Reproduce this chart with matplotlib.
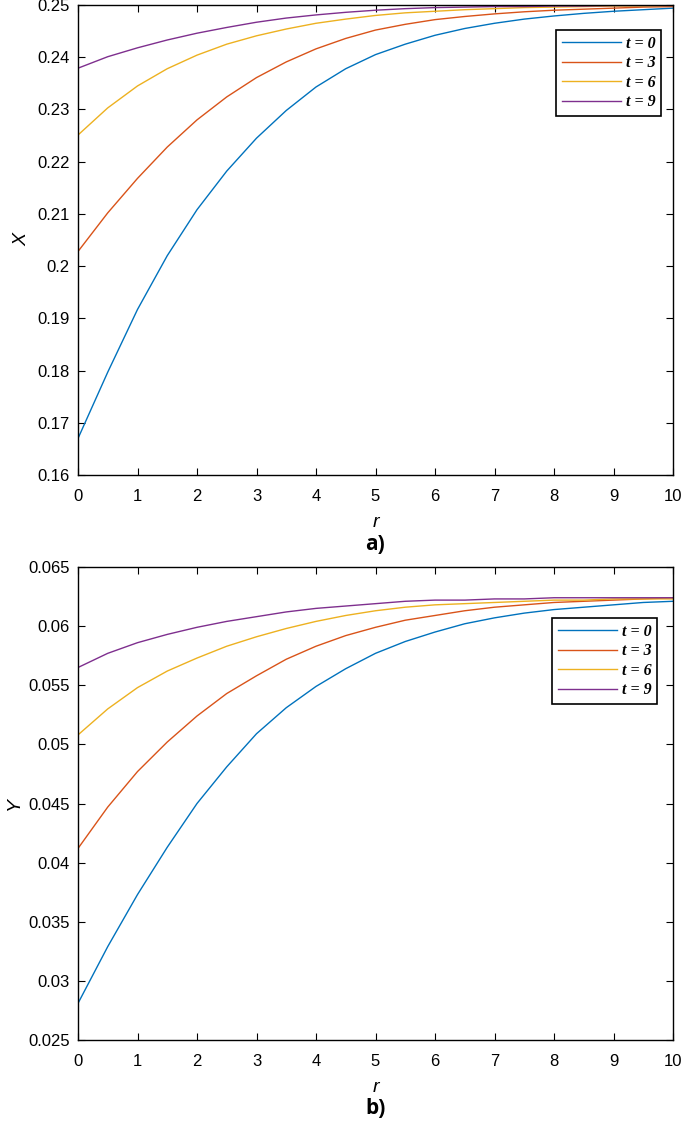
import matplotlib.pyplot as plt

# r values (every 0.5)
r = [0, 0.5, 1, 1.5, 2, 2.5, 3, 3.5, 4, 4.5, 5, 5.5, 6, 6.5, 7, 7.5, 8, 8.5, 9, 9.5, 10]

# a) X(r)
x_t0 = [0.1670, 0.1797, 0.1917, 0.2020, 0.2108, 0.2182, 0.2245, 0.2298, 0.2343, 0.2378, 0.2405,
        0.2425, 0.2442, 0.2455, 0.2465, 0.2473, 0.2479, 0.2484, 0.2488, 0.2491, 0.2494]
x_t3 = [0.2028, 0.2102, 0.2168, 0.2228, 0.2280, 0.2324, 0.2361, 0.2391, 0.2416, 0.2436, 0.2452,
        0.2463, 0.2472, 0.2478, 0.2483, 0.2487, 0.2490, 0.2492, 0.2494, 0.2496, 0.2497]
x_t6 = [0.2251, 0.2303, 0.2345, 0.2378, 0.2404, 0.2425, 0.2441, 0.2454, 0.2465, 0.2473, 0.2480,
        0.2485, 0.2488, 0.2491, 0.2493, 0.2495, 0.2496, 0.2497, 0.2498, 0.2498, 0.2499]
x_t9 = [0.2379, 0.2401, 0.2418, 0.2433, 0.2446, 0.2457, 0.2467, 0.2475, 0.2481, 0.2486, 0.2490,
        0.2493, 0.2495, 0.2496, 0.2497, 0.2497, 0.2498, 0.2498, 0.2499, 0.2499, 0.2499]

# b) Y(r)
y_t0 = [0.0281, 0.0329, 0.0373, 0.0413, 0.0450, 0.0481, 0.0509, 0.0531, 0.0549, 0.0564, 0.0577,
        0.0587, 0.0595, 0.0602, 0.0607, 0.0611, 0.0614, 0.0616, 0.0618, 0.0620, 0.0621]
y_t3 = [0.0412, 0.0447, 0.0477, 0.0502, 0.0524, 0.0543, 0.0558, 0.0572, 0.0583, 0.0592, 0.0599,
        0.0605, 0.0609, 0.0613, 0.0616, 0.0618, 0.0620, 0.0621, 0.0622, 0.0623, 0.0624]
y_t6 = [0.0508, 0.0530, 0.0548, 0.0562, 0.0573, 0.0583, 0.0591, 0.0598, 0.0604, 0.0609, 0.0613,
        0.0616, 0.0618, 0.0619, 0.0620, 0.0621, 0.0622, 0.0622, 0.0623, 0.0623, 0.0623]
y_t9 = [0.0565, 0.0577, 0.0586, 0.0593, 0.0599, 0.0604, 0.0608, 0.0612, 0.0615, 0.0617, 0.0619,
        0.0621, 0.0622, 0.0622, 0.0623, 0.0623, 0.0624, 0.0624, 0.0624, 0.0624, 0.0624]

labels = ['t = 0', 't = 3', 't = 6', 't = 9']
colors = ['#0072BD', '#D95319', '#EDB120', '#7E2F8E']

plt.rcParams['font.family'] = ['Liberation Sans', 'DejaVu Sans']

W, H = 685, 1124
fig = plt.figure(figsize=(W / 100, H / 100), dpi=100)


def px_axes(left, top, right, bottom):
    return fig.add_axes([left / W, 1 - bottom / H, (right - left) / W, (bottom - top) / H])


def style(ax, ylim, yticks, yticklabels, ylab, ylabelpad):
    ax.set_xlim(0, 10)
    ax.set_ylim(*ylim)
    ax.set_xticks(range(11))
    ax.set_yticks(yticks)
    ax.set_yticklabels(yticklabels)
    ax.tick_params(direction='in', top=True, right=True, length=5, width=0.8,
                   labelsize=12, pad=6)
    ax.tick_params(axis='x', pad=10)
    for s in ax.spines.values():
        s.set_linewidth(1.0)
    ax.set_xlabel('r', fontsize=14, style='italic', labelpad=7)
    ax.set_ylabel(ylab, fontsize=14, style='italic', labelpad=ylabelpad)


def legend(ax, x_right, y_top):
    leg = ax.legend(loc='upper right', bbox_to_anchor=(x_right / W, 1 - y_top / H),
                    bbox_transform=fig.transFigure, fancybox=False, edgecolor='black',
                    framealpha=1, handlelength=3.7, handletextpad=0.3, borderpad=0.35,
                    labelspacing=0.22, borderaxespad=0,
                    prop={'family': 'Liberation Serif', 'style': 'italic',
                          'weight': 'bold', 'size': 11.5})
    leg.get_frame().set_linewidth(1.2)


ax1 = px_axes(78, 5, 673, 475)
for vals, c, lab in zip([x_t0, x_t3, x_t6, x_t9], colors, labels):
    ax1.plot(r, vals, color=c, lw=1.0, label=lab)
yt1 = [0.16, 0.17, 0.18, 0.19, 0.2, 0.21, 0.22, 0.23, 0.24, 0.25]
style(ax1, (0.16, 0.25), yt1, ['0.16', '0.17', '0.18', '0.19', '0.2', '0.21', '0.22',
                               '0.23', '0.24', '0.25'], 'X', 5)
legend(ax1, 661, 30)
fig.text((78 + 595 / 2) / W, 1 - 545 / H, 'a)', ha='center', va='center',
         fontsize=15, fontweight='bold', family='Open Sans')

ax2 = px_axes(78, 567, 673, 1040)
for vals, c, lab in zip([y_t0, y_t3, y_t6, y_t9], colors, labels):
    ax2.plot(r, vals, color=c, lw=1.0, label=lab)
yt2 = [0.025, 0.03, 0.035, 0.04, 0.045, 0.05, 0.055, 0.06, 0.065]
style(ax2, (0.025, 0.065), yt2, ['0.025', '0.03', '0.035', '0.04', '0.045', '0.05',
                                 '0.055', '0.06', '0.065'], 'Y', 4)
legend(ax2, 657, 618)
fig.text((78 + 595 / 2) / W, 1 - 1108 / H, 'b)', ha='center', va='center',
         fontsize=15, fontweight='bold', family='Open Sans')

fig.savefig('out.png', dpi=100)
